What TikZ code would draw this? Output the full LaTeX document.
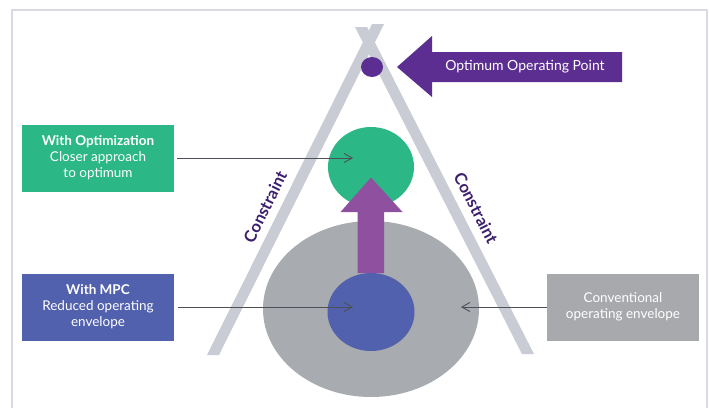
\documentclass[tikz,border=0pt]{standalone}
\usepackage{fontspec}
\setmainfont{Lato}
\usetikzlibrary{arrows.meta}

\definecolor{framegray}{HTML}{D9DAE2}
\definecolor{bargray}{HTML}{C9CCD4}
\definecolor{envgray}{HTML}{A8ABAF}
\definecolor{optgreen}{HTML}{2BB886}
\definecolor{mpcblue}{HTML}{5161AD}
\definecolor{liftpurple}{HTML}{8F509F}
\definecolor{optpurple}{HTML}{5C2E91}
\definecolor{boxgray}{HTML}{A7A9AC}
\definecolor{conngray}{HTML}{4D5157}
\definecolor{labelpurple}{HTML}{3C1F6D}

\tikzset{
    infobox/.style={minimum width=152pt, minimum height=67pt, align=center,
        text=white, font=\fontsize{13.5}{16}\selectfont, inner sep=0pt},
    conn/.style={conngray, line width=0.9pt, -{Straight Barb[length=8pt,width=9pt]}},
    conlabel/.style={labelpurple, font=\fontsize{16.5}{18}\selectfont\bfseries}
}

\begin{document}
\begin{tikzpicture}[x=1pt, y=-1pt]
    \useasboundingbox (0,0) rectangle (709,408);
    \fill[white] (0,0) rectangle (709,408);
    \draw[framegray, line width=2pt] (12,408) -- (12,10) -- (707,10) -- (707,408);

    % constraint bars
    \fill[bargray] (207,355) -- (219,355) -- (384,24) -- (372,24) -- cycle;
    \fill[bargray] (355,27) -- (367,27) -- (534,354) -- (522,354) -- cycle;
    \node[conlabel, rotate=63.5] (leftlab) at (265,207) {Constraint};
    \node[conlabel, rotate=-63] (rightlab) at (476,208) {Constraint};

    % envelopes
    \fill[envgray] (371,309) ellipse [x radius=108, y radius=88];
    \fill[optgreen] (371,167) ellipse [x radius=43, y radius=40];
    \fill[mpcblue] (371,312) ellipse [x radius=43.5, y radius=39];

    % lift arrow
    \fill[liftpurple] (357.5,273) -- (357.5,212) -- (340.5,212) -- (371,177.5)
        -- (402.5,212) -- (384,212) -- (384,273) -- cycle;

    % optimum point
    \fill[optpurple] (372,67) ellipse [x radius=11, y radius=10];
    \fill[optpurple] (397,67) -- (432,36) -- (432,52) -- (622,52) -- (622,82)
        -- (432,82) -- (432,97) -- cycle;
    \node[text=white, font=\fontsize{14}{16}\selectfont] (optlab) at (525,67) {Optimum Operating Point};

    % boxes
    \node[infobox, fill=optgreen] (optbox) at (98,158)
        {\textbf{With Optimization}\\Closer approach\\to optimum};
    \node[infobox, fill=mpcblue] (mpcbox) at (98,307)
        {\textbf{With MPC}\\Reduced operating\\envelope};
    \node[infobox, fill=boxgray] (convbox) at (623,307)
        {Conventional\\operating envelope};

    \coordinate (opttip) at (353,158);
    \coordinate (mpctip) at (353,307);
    \coordinate (convtip) at (461,307);
    \draw[conn, shorten <=3pt] (optbox.east) -- (opttip);
    \draw[conn, shorten <=4pt] (mpcbox.east) -- (mpctip);
    \draw[conn] (convbox.west) -- (convtip);
\end{tikzpicture}
\end{document}
